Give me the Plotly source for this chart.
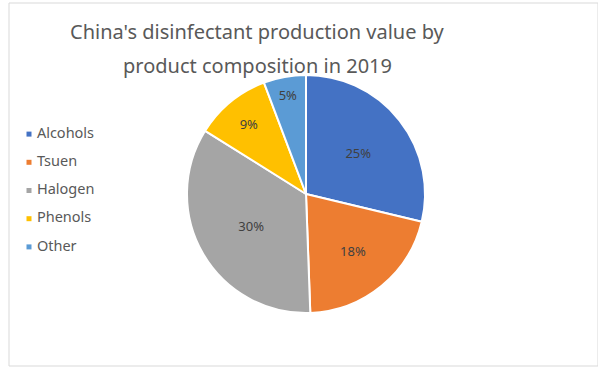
import plotly.graph_objects as go

categories = ["Alcohols", "Tsuen", "Halogen", "Phenols", "Other"]
values = [25, 18, 30, 9, 5]
colors = ["#4472C4", "#ED7D31", "#A5A5A5", "#FFC000", "#5B9BD5"]
text_labels = [f"{v}%" for v in values]
title_lines = ["China's disinfectant production value by", "product composition in 2019"]

W, H = 598, 367
cx, cy, r = 306, 194, 119

fig = go.Figure()
fig.add_trace(go.Pie(
    labels=categories,
    values=values,
    text=text_labels,
    textinfo="text",
    textposition="inside",
    insidetextorientation="horizontal",
    sort=False,
    direction="clockwise",
    rotation=0,
    marker=dict(colors=colors, line=dict(color="white", width=2)),
    textfont=dict(family="Noto Sans", size=13, color="#404040"),
    domain=dict(x=[(cx - r) / W, (cx + r) / W], y=[1 - (cy + r) / H, 1 - (cy - r) / H]),
    hoverinfo="label+percent",
    showlegend=False,
))

# Legend drawn as a scatter on hidden axes (pixel-like units)
fig.add_trace(go.Scatter(
    x=[29] * len(categories),
    y=list(range(len(categories))),
    mode="markers+text",
    marker=dict(symbol="square", size=5, color=colors),
    text=categories,
    texttemplate=" %{text}",
    textposition="middle right",
    textfont=dict(family="Noto Sans", size=14.5, color="#595959"),
    hoverinfo="text",
    showlegend=False,
    cliponaxis=False,
))

fig.update_layout(
    width=W, height=H,
    margin=dict(l=0, r=0, t=0, b=0),
    paper_bgcolor="white",
    plot_bgcolor="rgba(0,0,0,0)",
    font=dict(family="Noto Sans", color="#595959"),
    xaxis=dict(domain=[0, 0.5], range=[0, 299], visible=False, fixedrange=True),
    yaxis=dict(domain=[1 - 261 / H, 1 - 120 / H], range=[4.5, -0.5], visible=False, fixedrange=True),
    annotations=[
        dict(text=title_lines[0], x=257 / W, y=1 - 32 / H, xref="paper", yref="paper",
             xanchor="center", yanchor="middle", showarrow=False,
             font=dict(size=20, color="#595959", family="Noto Sans")),
        dict(text=title_lines[1], x=257 / W, y=1 - 65 / H, xref="paper", yref="paper",
             xanchor="center", yanchor="middle", showarrow=False,
             font=dict(size=20, color="#595959", family="Noto Sans")),
    ],
    shapes=[dict(type="rect", xref="paper", yref="paper",
                 x0=9 / W, x1=1.0, y0=1 - 366 / H, y1=1 - 3 / H,
                 line=dict(color="#D9D9D9", width=1), layer="below")],
)

fig.write_html("out.html")
